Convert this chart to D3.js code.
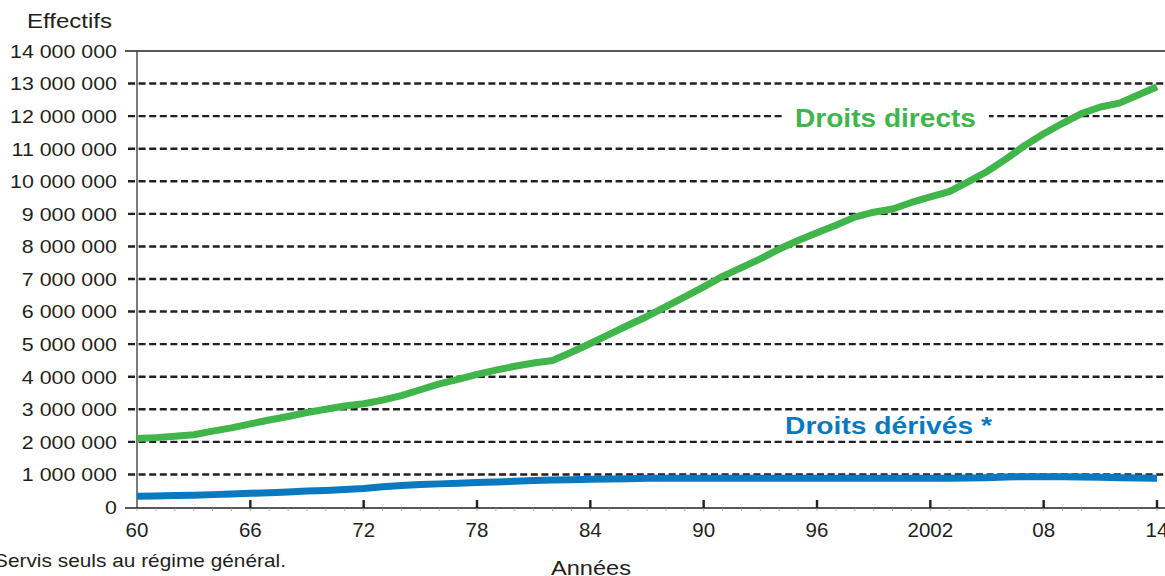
<!DOCTYPE html>
<html>
<head>
<meta charset="utf-8">
<script src="https://cdn.jsdelivr.net/npm/d3@7"></script>
<style>
  html, body { margin: 0; padding: 0; background: #fff; }
  svg { display: block; font-family: "Liberation Sans", Arial, Helvetica, sans-serif; }
</style>
</head>
<body>
<svg id="chart" width="1165" height="576"></svg>
<script>
// ---- data ----
const years = d3.range(1960, 2015);
const droitsDirects = [
  2.10, 2.13, 2.17, 2.22, 2.33, 2.43, 2.55, 2.67, 2.78, 2.90,
  3.00, 3.10, 3.17, 3.28, 3.42, 3.60, 3.78, 3.92, 4.07, 4.20,
  4.32, 4.42, 4.50, 4.75, 5.02, 5.30, 5.58, 5.85, 6.15, 6.45,
  6.76, 7.08, 7.35, 7.62, 7.92, 8.18, 8.42, 8.65, 8.90, 9.05,
  9.15, 9.35, 9.52, 9.68, 9.98, 10.30, 10.68, 11.10, 11.46, 11.78,
  12.08, 12.28, 12.40, 12.65, 12.90
].map(v => v * 1e6);
const droitsDerives = [
  0.33, 0.34, 0.35, 0.36, 0.38, 0.40, 0.42, 0.44, 0.46, 0.49,
  0.51, 0.54, 0.57, 0.62, 0.66, 0.69, 0.71, 0.73, 0.75, 0.77,
  0.79, 0.81, 0.83, 0.84, 0.85, 0.86, 0.87, 0.88, 0.88, 0.88,
  0.88, 0.88, 0.88, 0.88, 0.88, 0.88, 0.88, 0.88, 0.88, 0.88,
  0.88, 0.88, 0.88, 0.88, 0.89, 0.90, 0.92, 0.93, 0.93, 0.93,
  0.92, 0.91, 0.90, 0.89, 0.88
].map(v => v * 1e6);
const yTicks = d3.range(0, 14000001, 1000000);
const xTickYears = [1960, 1966, 1972, 1978, 1984, 1990, 1996, 2002, 2008, 2014];
const xTickLabels = ["60", "66", "72", "78", "84", "90", "96", "2002", "08", "14"];
const seriesNames = ["Droits directs", "Droits dérivés *"];
const yTitle = "Effectifs";
const xTitle = "Années";
const footnote = "Servis seuls au régime général.";

// ---- layout ----
const svg = d3.select("#chart");
const x = d3.scaleLinear().domain([1960, 2014]).range([137, 1157]);
const y = d3.scaleLinear().domain([0, 14000000]).range([507, 51]);
const green = "#3fb54a", blue = "#0a79bf", ink = "#231f20";
const fmt = v => d3.format(",")(v).replace(/,/g, " ");

// gridlines
svg.append("g").selectAll("line").data(yTicks.filter(v => v > 0)).join("line")
  .attr("x1", d => d === 14000000 ? 125 : 128).attr("x2", 1165)
  .attr("y1", d => y(d)).attr("y2", d => y(d))
  .attr("stroke", ink)
  .attr("stroke-width", d => d === 14000000 ? 1.3 : 2.4)
  .attr("stroke-dasharray", d => d === 14000000 ? null : "7,3.6");

// y axis line
svg.append("line").attr("x1", 137).attr("x2", 137).attr("y1", y(14000000)).attr("y2", 508)
  .attr("stroke", "#444").attr("stroke-width", 1.4);
// x axis line
svg.append("line").attr("x1", 125).attr("x2", 1165).attr("y1", 508).attr("y2", 508)
  .attr("stroke", ink).attr("stroke-width", 1.4);
// minor x ticks (years)
svg.append("g").selectAll("line").data(years).join("line")
  .attr("x1", d => x(d)).attr("x2", d => x(d)).attr("y1", 508).attr("y2", 511)
  .attr("stroke", "#999").attr("stroke-width", 0.8);
// major x ticks
svg.append("g").selectAll("line").data(xTickYears.slice(1)).join("line")
  .attr("x1", d => x(d)).attr("x2", d => x(d)).attr("y1", 500).attr("y2", 508)
  .attr("stroke", ink).attr("stroke-width", 2.4);

// y tick labels
const yl = svg.append("g").selectAll("text").data(yTicks).join("text")
  .attr("x", 117).attr("y", d => y(d)).attr("dy", "0.36em")
  .attr("text-anchor", "end").attr("font-size", 19).attr("fill", ink)
  .text(d => fmt(d));
const refW = yl.filter(d => d === 14000000).node().getComputedTextLength();
const kY = 107 / refW;
yl.each(function() {
  const w = this.getComputedTextLength();
  d3.select(this).attr("textLength", w * kY).attr("lengthAdjust", "spacingAndGlyphs");
});

// x tick labels
svg.append("g").selectAll("text").data(xTickYears).join("text")
  .attr("x", (d) => x(d)).attr("y", 537)
  .attr("text-anchor", "middle").attr("font-size", 20.5).attr("fill", ink)
  .text((d, i) => xTickLabels[i]);

// titles
svg.append("text").attr("x", 27).attr("y", 28).attr("font-size", 20).attr("fill", ink)
  .attr("textLength", 85).attr("lengthAdjust", "spacingAndGlyphs").text(yTitle);
svg.append("text").attr("x", 551).attr("y", 575).attr("font-size", 21).attr("fill", ink)
  .attr("textLength", 80).attr("lengthAdjust", "spacingAndGlyphs").text(xTitle);
svg.append("text").attr("x", -6).attr("y", 567).attr("font-size", 19).attr("fill", ink)
  .attr("textLength", 292).attr("lengthAdjust", "spacingAndGlyphs").text(footnote);

// lines
const line = d3.line().x((d, i) => x(years[i])).y(d => y(d)).curve(d3.curveLinear);
svg.append("path").datum(droitsDerives).attr("d", line)
  .attr("fill", "none").attr("stroke", blue).attr("stroke-width", 7).attr("stroke-linejoin", "round");
svg.append("path").datum(droitsDirects).attr("d", line)
  .attr("fill", "none").attr("stroke", green).attr("stroke-width", 7).attr("stroke-linejoin", "round");

// series labels
svg.append("rect").attr("x", 785).attr("y", 104).attr("width", 204).attr("height", 26).attr("fill", "#fff");
svg.append("text").attr("x", 795).attr("y", 127).attr("font-size", 25).attr("font-weight", "bold")
  .attr("fill", green).attr("textLength", 181).attr("lengthAdjust", "spacingAndGlyphs").text(seriesNames[0]);
svg.append("text").attr("x", 785).attr("y", 434).attr("font-size", 24).attr("font-weight", "bold")
  .attr("fill", blue).attr("textLength", 207).attr("lengthAdjust", "spacingAndGlyphs").text(seriesNames[1]);
</script>
</body>
</html>
